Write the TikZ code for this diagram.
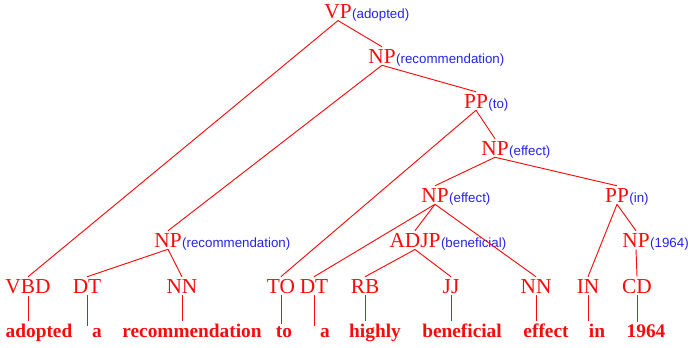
\documentclass[tikz,border=0pt]{standalone}
\usepackage{fontspec}
\setmainfont{Liberation Serif}
\newfontfamily\headfont{Liberation Sans}
\usetikzlibrary{positioning}
\definecolor{treered}{RGB}{250,10,10}
\definecolor{headblue}{RGB}{35,35,235}

\begin{document}
\begin{tikzpicture}[x=0.75pt, y=-0.75pt,
  cat/.style={text=treered, font=\fontsize{16}{17}\selectfont, inner xsep=0pt, inner ysep=1.5pt, anchor=base},
  head/.style={text=headblue, font=\headfont\fontsize{10}{12}\selectfont, inner sep=0pt, anchor=base west},
  word/.style={text=treered, font=\bfseries\fontsize{14.5}{16}\selectfont, inner sep=1.5pt, anchor=base},
  edge/.style={draw=treered, line width=0.7pt}]
  \useasboundingbox (0,0) rectangle (688,347);

  % phrase nodes with their head words
  \node[cat] (vp) at (338,18) {VP};
  \node[head] (vph) at (vp.base east) {(adopted)};
  \node[cat] (nprec) at (382,63) {NP};
  \node[head] (nprech) at (nprec.base east) {(recommendation)};
  \node[cat] (ppto) at (476,108) {PP};
  \node[head] (pptoh) at (ppto.base east) {(to)};
  \node[cat] (npeff) at (495,155) {NP};
  \node[head] (npeffh) at (npeff.base east) {(effect)};
  \node[cat] (npeffl) at (435,202) {NP};
  \node[head] (npefflh) at (npeffl.base east) {(effect)};
  \node[cat] (ppin) at (617,202) {PP};
  \node[head] (ppinh) at (ppin.base east) {(in)};
  \node[cat] (adjp) at (415,247) {ADJP};
  \node[head] (adjph) at (adjp.base east) {(beneficial)};
  \node[cat] (npyear) at (636,247) {NP};
  \node[head] (npyearh) at (npyear.base east) {(1964)};
  \node[cat] (npreclo) at (168,247) {NP};
  \node[head] (npreclh) at (npreclo.base east) {(recommendation)};

  % part of speech tags
  \node[cat] (vbd) at (28,293) {VBD};
  \node[cat] (dta) at (87,293) {DT};
  \node[cat] (nnrec) at (182,293) {NN};
  \node[cat] (to) at (281,293) {TO};
  \node[cat] (dtb) at (314,293) {DT};
  \node[cat] (rb) at (365,293) {RB};
  \node[cat] (jj) at (451,293) {JJ};
  \node[cat] (nneff) at (536,293) {NN};
  \node[cat] (in) at (588,293) {IN};
  \node[cat] (cd) at (637,293) {CD};

  % words
  \node[word] (wadopted) at (39,337) {adopted};
  \node[word] (wa) at (97,337) {a};
  \node[word] (wrec) at (192,337) {recommendation};
  \node[word] (wto) at (284,337) {to};
  \node[word] (wb) at (325,337) {a};
  \node[word] (whighly) at (375,337) {highly};
  \node[word] (wbenef) at (462,337) {beneficial};
  \node[word] (weffect) at (546,337) {effect};
  \node[word] (win) at (597,337) {in};
  \node[word] (wyear) at (646,337) {1964};

  % tree edges
  \draw[edge] (vp.south) -- (vbd.north);
  \draw[edge] (vp.south) -- (nprec.north);
  \draw[edge] (nprec.south) -- (npreclo.north);
  \draw[edge] (nprec.south) -- (ppto.north);
  \draw[edge] (npreclo.south) -- (dta.north);
  \draw[edge] (npreclo.south) -- (nnrec.north);
  \draw[edge] (ppto.south) -- (to.north);
  \draw[edge] (ppto.south) -- (npeff.north);
  \draw[edge] (npeff.south) -- (npeffl.north);
  \draw[edge] (npeff.south) -- (ppin.north);
  \draw[edge] (npeffl.south) -- (dtb.north);
  \draw[edge] (npeffl.south) -- (adjp.north);
  \draw[edge] (npeffl.south) -- (nneff.north);
  \draw[edge] (adjp.south) -- (rb.north);
  \draw[edge] (adjp.south) -- (jj.north);
  \draw[edge] (ppin.south) -- (in.north);
  \draw[edge] (ppin.south) -- (npyear.north);
  \draw[edge] (npyear.south) -- (cd.north);

  % tags down to words
  \draw[edge] (vbd.south) -- (vbd.south |- wadopted.north);
  \draw[edge] (dta.south) -- (dta.south |- wa.north);
  \draw[edge] (nnrec.south) -- (nnrec.south |- wrec.north);
  \draw[edge] (to.south) -- (to.south |- wto.north);
  \draw[edge] (dtb.south) -- (dtb.south |- wb.north);
  \draw[edge] (rb.south) -- (rb.south |- whighly.north);
  \draw[edge] (jj.south) -- (jj.south |- wbenef.north);
  \draw[edge] (nneff.south) -- (nneff.south |- weffect.north);
  \draw[edge] (in.south) -- (in.south |- win.north);
  \draw[edge] (cd.south) -- (cd.south |- wyear.north);
\end{tikzpicture}
\end{document}
